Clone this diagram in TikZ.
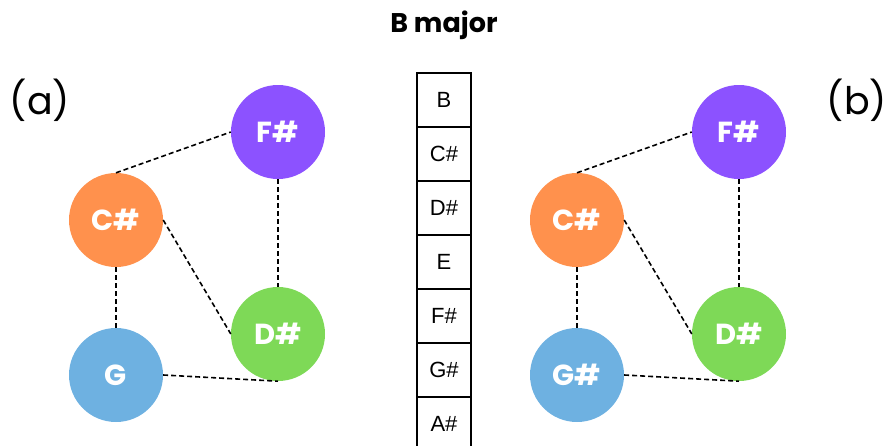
\documentclass[tikz,border=0pt]{standalone}
\usepackage{fontspec}
\setmainfont{Poppins}
\setsansfont{Poppins}
\newfontfamily\cellfont{Liberation Sans}
\definecolor{notepurple}{HTML}{8C52FF}
\definecolor{noteorange}{HTML}{FF914D}
\definecolor{notegreen}{HTML}{7ED957}
\definecolor{noteblue}{HTML}{6EB1E1}
\begin{document}
\begin{tikzpicture}[x=1pt,y=-1pt,
  note/.style={circle,minimum size=94pt,inner sep=0pt,text=white,
    font=\fontsize{29}{29}\selectfont\bfseries},
  link/.style={draw=black,line width=1.6pt,dash pattern=on 5pt off 3pt},
  cell/.style={draw=black,line width=1.3pt,minimum width=54pt,minimum height=54pt,
    inner sep=0pt,font=\cellfont\fontsize{22}{22}\selectfont},
  tag/.style={font=\fontsize{38}{38}\selectfont},
]
\useasboundingbox (0,0) rectangle (887,445);
\clip (0,0) rectangle (887,445);

% title
\node[font=\fontsize{27}{27}\selectfont\bfseries] (title) at (444,25) {B major};

% panel labels
\node[tag] (tagA) at (40,100) {(a)};
\node[tag] (tagB) at (857,100) {(b)};

% left graph
\node[note,fill=notepurple] (lF) at (278,132) {F\#};
\node[note,fill=noteorange] (lC) at (116,220) {C\#};
\node[note,fill=notegreen]  (lD) at (278,334) {D\#};
\node[note,fill=noteblue]   (lG) at (116,375) {G};
\draw[link] (lC.north) -- (lF.west);
\draw[link] (lF.south) -- (lD.north);
\draw[link] (lC.east) -- (lD.west);
\draw[link] (lC.south) -- (lG.north);
\draw[link] (lG.east) -- (lD.south);

% right graph
\node[note,fill=notepurple] (rF) at (739,132) {F\#};
\node[note,fill=noteorange] (rC) at (577,220) {C\#};
\node[note,fill=notegreen]  (rD) at (739,334) {D\#};
\node[note,fill=noteblue]   (rG) at (577,375) {G\#};
\draw[link] (rC.north) -- (rF.west);
\draw[link] (rF.south) -- (rD.north);
\draw[link] (rC.east) -- (rD.west);
\draw[link] (rC.south) -- (rG.north);
\draw[link] (rG.east) -- (rD.south);

% scale column
\node[cell] (s1) at (444,100) {B};
\node[cell] (s2) at (444,154) {C\#};
\node[cell] (s3) at (444,208) {D\#};
\node[cell] (s4) at (444,262) {E};
\node[cell] (s5) at (444,316) {F\#};
\node[cell] (s6) at (444,370) {G\#};
\node[cell] (s7) at (444,424) {A\#};
\end{tikzpicture}
\end{document}
